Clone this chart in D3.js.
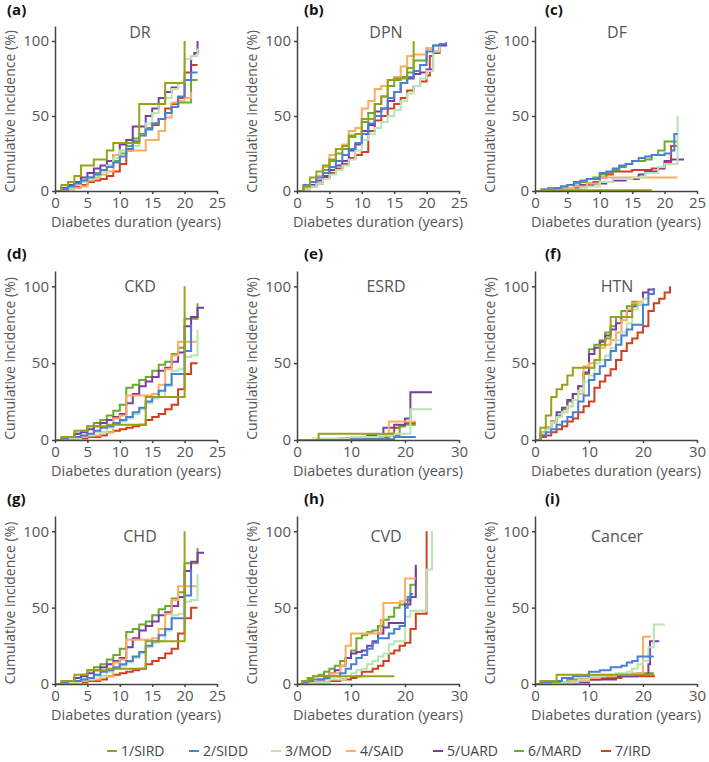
<!DOCTYPE html>
<html>
<head>
<meta charset="utf-8">
<script src="https://cdn.jsdelivr.net/npm/d3@7"></script>
<style>
  body { margin: 0; background: #fff; }
  svg { display: block; }
  text { font-family: "Open Sans", "DejaVu Sans", sans-serif; }
</style>
</head>
<body>
<svg id="chart" width="709" height="762"></svg>
<script>
// Groups and colours (legend order)
var groups = ["1/SIRD", "2/SIDD", "3/MOD", "4/SAID", "5/UARD", "6/MARD", "7/IRD"];
var groupColors = ["#97a11a", "#4a7fd6", "#b9e4b3", "#ffab60", "#7b3ca3", "#6aab2c", "#d0401e"];

var panelTitles = ["DR", "DPN", "DF", "CKD", "ESRD", "HTN", "CHD", "CVD", "Cancer"];
var panelLetters = ["(a)", "(b)", "(c)", "(d)", "(e)", "(f)", "(g)", "(h)", "(i)"];
var panelXMax = [25, 25, 25, 25, 30, 30, 25, 30, 30];
var xTicks25 = [0, 5, 10, 15, 20, 25];
var xTicks30 = [0, 10, 20, 30];
var yTicks = [0, 50, 100];

// Step curves, [years, cumulative %], one list per group
var drSteps = [
  [[0,0],[1,4],[2,6],[3,10],[4,17],[6,21],[8,27],[9,32],[13,58],[17,72],[20,100]],
  [[0,0],[1,1],[2,3],[3,5],[4,7],[5,9],[6,11],[7,14],[8,16],[9,19],[10,23],[11,28],[12,33],[13,37],[14,41],[15,45],[16,48],[17,52],[18,56],[19,63],[20,74],[21,79],[22,79]],
  [[0,0],[1,1],[2,2],[3,4],[4,6],[5,8],[6,10],[7,13],[8,17],[9,22],[10,27],[11,28],[12,30],[13,37],[14,45],[15,52],[16,58],[17,62],[18,68],[19,72],[20,88],[21,90],[22,95]],
  [[0,0],[2,1],[3,2],[4,3],[5,7],[6,9],[7,11],[8,13],[9,24],[10,27],[14,34],[16,40],[17,49],[18,59],[19,60],[20,62],[21,66]],
  [[0,0],[1,2],[2,4],[3,6],[4,9],[5,12],[6,15],[7,17],[8,20],[9,24],[10,31],[11,34],[12,43],[14,50],[15,55],[16,62],[17,66],[18,69],[19,72],[20,74],[21,90],[21.5,92],[22,100]],
  [[0,0],[1,2],[2,3],[3,5],[4,7],[5,9],[6,12],[7,14],[8,17],[9,20],[10,25],[11,30],[12,35],[13,38],[14,42],[15,45],[16,48],[17,52],[18,56],[19,59],[21,74],[22,74]],
  [[0,0],[1,1],[2,2],[3,3],[4,4],[5,6],[6,7],[7,8],[8,10],[9,13],[10,18],[11,27],[12,33],[13,38],[14,42],[15,44],[16,48],[17,55],[18,58],[19,62],[20,79],[21,84],[22,84]]
];

var dpnSteps = [
  [[0,0],[1,3],[2,9],[3,13],[4,17],[5,21],[6,28],[7,30],[8,37],[9,38],[10,48],[12,58],[13,63],[14,74],[15,75],[17,82],[18,100]],
  [[0,0],[1,4],[2,6],[3,9],[4,12],[5,16],[6,20],[7,24],[8,28],[9,32],[10,38],[11,45],[12,50],[13,55],[14,62],[15,66],[16,72],[17,76],[18,80],[19,84],[20,93],[21,97],[22,98],[23,99]],
  [[0,0],[1,1],[2,3],[3,5],[4,8],[5,11],[6,14],[7,17],[8,21],[9,27],[10,34],[11,38],[12,42],[13,46],[14,50],[15,54],[16,60],[17,65],[18,70],[19,75],[20,80],[21,93],[22,97]],
  [[0,0],[1,2],[2,6],[3,10],[4,16],[5,24],[6,28],[7,31],[8,40],[9,42],[10,55],[11,60],[12,68],[13,70],[14,74],[15,76],[16,83],[17,90],[18,91],[20,95],[21,96]],
  [[0,0],[1,2],[2,4],[3,7],[4,10],[5,14],[6,17],[7,20],[8,27],[9,31],[10,40],[11,44],[12,53],[13,55],[14,60],[15,66],[16,72],[17,75],[18,78],[19,79],[20,81],[21,93],[22,97],[23,99]],
  [[0,0],[1,2],[2,6],[3,10],[4,14],[5,20],[6,25],[7,28],[8,36],[9,38],[10,46],[11,52],[12,58],[13,63],[14,70],[15,74],[16,76],[17,79],[18,87],[20,95],[21,97],[22,97]],
  [[0,0],[1,1],[2,3],[3,5],[4,9],[5,12],[6,15],[7,18],[8,22],[9,24],[10,26],[11,40],[12,47],[13,50],[14,55],[15,58],[16,62],[17,67],[18,70],[19,73],[20,77],[20.5,90],[21,92],[22,95]]
];

var dfSteps = [
  [[0,0],[1,0.5],[18,0.5]],
  [[0,0],[1,1],[3,2],[4,3],[5,4],[6,6],[7,7],[8,8],[10,12],[11,13],[12,15],[13,17],[14,18],[15,20],[16,22],[17,23],[18,24],[20,25],[21,27],[21.5,38],[22,38]],
  [[0,0],[3,0.5],[5,1],[7,2],[8,3],[10,6],[12,8],[15,9],[17,12],[19,16],[20,18],[22,50]],
  [[0,0],[2,1],[4,2],[6,3],[8,5],[10,9],[22,9]],
  [[0,0],[3,1],[5,2],[7,4],[9,5],[11,6],[12,7],[14,8],[16,11],[17,13],[19,15],[20,20],[21,21],[23,21]],
  [[0,0],[1,1],[2,2],[4,3],[5,4],[6,5],[7,6],[8,8],[9,9],[10,11],[11,12],[12,14],[13,16],[14,18],[15,20],[17,21],[18,24],[19,27],[20,33],[22,33]],
  [[0,0],[2,1],[4,2],[6,3],[8,5],[9,6],[10,9],[11,11],[12,13],[15,14],[18,15],[19,16],[20,19],[21,30],[22,30]]
];

var ckdSteps = [
  [[0,0],[1,2],[3,6],[5,9],[8,10],[14,28],[20,100]],
  [[0,0],[1,1],[2,2],[4,3],[5,4],[6,6],[7,8],[8,9],[9,11],[10,13],[11,15],[12,18],[13,21],[14,25],[15,28],[16,32],[17,36],[18,43],[20,58],[21,75]],
  [[0,0],[2,1],[4,3],[6,5],[8,8],[9,10],[10,12],[11,14],[12,17],[13,20],[14,24],[15,27],[16,28],[17,35],[18,45],[19,46],[20,54],[21,55],[22,72]],
  [[0,0],[1,1],[3,2],[5,3],[7,5],[9,14],[10,16],[11,29],[15,30],[16,36],[17,46],[18,55],[19,64],[22,64]],
  [[0,0],[1,1],[2,2],[3,4],[4,5],[5,7],[6,9],[7,11],[8,13],[9,15],[10,17],[11,24],[12,30],[13,35],[14,38],[15,41],[16,45],[17,47],[18,51],[19,57],[20,74],[21,80],[22,86],[23,86]],
  [[0,0],[1,1],[2,2],[3,4],[4,6],[5,9],[6,11],[7,13],[8,16],[9,19],[10,23],[11,34],[12,36],[13,39],[14,41],[15,45],[16,49],[17,51],[18,56],[19,60],[20,79],[21,79],[22,89]],
  [[0,0],[3,1],[5,2],[7,3],[8,5],[9,6],[10,7],[11,8],[12,9],[13,10],[14,13],[15,15],[16,17],[17,20],[18,23],[19,33],[20,43],[21,50],[22,50]]
];

var esrdSteps = [
  [[0,0],[4,4],[18,4]],
  [[0,0],[10,0.5],[18,2],[22,2]],
  [[0,0],[3,1],[10,2],[15,3],[18,4],[21,20],[25,20]],
  [[0,0],[8,1],[12,2],[16,3],[17,12],[22,12]],
  [[0,0],[8,1],[10,2],[13,3],[16,8],[18,10],[20,14],[21,31],[25,31]],
  [[0,0],[10,1],[17,3],[19,9],[20,10],[22,10]],
  [[0,0],[9,1],[15,2],[17,4],[18,8],[19,9],[20,11],[22,11]]
];

var htnSteps = [
  [[0,0],[1,8],[2,16],[3,28],[4,33],[5,36],[6,42],[7,47],[10,47],[11,52],[12,62],[13,66],[14,80],[18,88],[19,88]],
  [[0,0],[1,3],[2,5],[3,7],[4,10],[5,12],[6,15],[7,18],[8,25],[9,29],[10,39],[11,43],[12,48],[13,52],[14,58],[15,62],[16,68],[17,72],[18,75],[20,88],[21,95],[22,99]],
  [[0,0],[1,4],[2,7],[3,11],[4,15],[5,18],[6,22],[7,26],[8,32],[9,38],[10,42],[11,50],[12,52],[13,55],[14,60],[15,65],[16,70],[17,76],[18,85],[19,88],[20,92],[21,95],[22,98]],
  [[0,0],[1,5],[2,8],[3,12],[4,15],[5,18],[6,22],[7,26],[8,30],[9,48],[10,50],[11,52],[12,60],[13,62],[14,65],[15,70],[16,78],[17,85],[18,89],[19,90],[20,90]],
  [[0,0],[1,4],[2,8],[3,12],[4,18],[5,21],[6,26],[7,30],[8,35],[9,44],[10,56],[11,60],[12,64],[13,68],[14,72],[15,76],[16,80],[17,84],[18,87],[19,88],[20,96],[21,98],[22,99]],
  [[0,0],[1,5],[2,8],[3,12],[4,16],[5,20],[6,25],[7,30],[8,35],[9,43],[10,59],[11,62],[12,65],[13,70],[14,74],[15,80],[16,84],[17,87],[18,90],[19,90]],
  [[0,0],[1,2],[2,3],[3,5],[4,7],[5,9],[6,12],[7,14],[8,18],[9,22],[10,25],[11,34],[12,38],[13,42],[14,46],[15,52],[16,58],[17,63],[18,66],[19,70],[20,74],[21,84],[22,89],[23,92],[24,96],[25,100]]
];

// CHD curves read the same as CKD in the figure
var chdSteps = [
  [[0,0],[1,2],[3,6],[5,9],[8,10],[14,28],[20,100]],
  [[0,0],[1,1],[2,2],[4,3],[5,4],[6,6],[7,8],[8,9],[9,11],[10,13],[11,15],[12,18],[13,21],[14,25],[15,28],[16,32],[17,36],[18,43],[20,58],[21,75]],
  [[0,0],[2,1],[4,3],[6,5],[8,8],[9,10],[10,12],[11,14],[12,17],[13,20],[14,24],[15,27],[16,28],[17,35],[18,45],[19,46],[20,54],[21,55],[22,72]],
  [[0,0],[1,1],[3,2],[5,3],[7,5],[9,14],[10,16],[11,29],[15,30],[16,36],[17,46],[18,55],[19,64],[22,64]],
  [[0,0],[1,1],[2,2],[3,4],[4,5],[5,7],[6,9],[7,11],[8,13],[9,15],[10,17],[11,24],[12,30],[13,35],[14,38],[15,41],[16,45],[17,47],[18,51],[19,57],[20,74],[21,80],[22,86],[23,86]],
  [[0,0],[1,1],[2,2],[3,4],[4,6],[5,9],[6,11],[7,13],[8,16],[9,19],[10,23],[11,34],[12,36],[13,39],[14,41],[15,45],[16,49],[17,51],[18,56],[19,60],[20,79],[21,79],[22,89]],
  [[0,0],[3,1],[5,2],[7,3],[8,5],[9,6],[10,7],[11,8],[12,9],[13,10],[14,13],[15,15],[16,17],[17,20],[18,23],[19,33],[20,43],[21,50],[22,50]]
];

var cvdSteps = [
  [[0,0],[1,2],[2,3],[3,5],[18,5]],
  [[0,0],[1,1],[2,2],[3,3],[5,4],[6,5],[8,7],[9,10],[10,13],[11,17],[12,19],[13,23],[14,27],[15,30],[17,33],[18,36],[19,38],[20,50],[20.5,57],[21,59],[21.5,59]],
  [[0,0],[3,1],[6,3],[9,5],[10,7],[11,9],[12,10],[13,13],[14,15],[15,18],[16,20],[17,26],[18,28],[20,44],[21,48],[24,75],[25,100]],
  [[0,0],[2,1],[4,3],[6,7],[8,12],[9,25],[10,33],[15,33],[15.5,42],[16,53],[19,54],[20,69],[22,69]],
  [[0,0],[2,1],[4,3],[5,5],[6,7],[7,9],[8,12],[9,17],[10,20],[11,21],[12,22],[13,25],[14,28],[15,33],[16,37],[17,40],[20,52],[21,57],[22,78]],
  [[0,0],[1,2],[2,4],[3,5],[4,6],[5,8],[6,10],[7,12],[8,15],[9,17],[10,22],[11,30],[12,32],[13,34],[14,35],[15,38],[16,42],[17,44],[18,50],[19,52],[20,55],[21,65],[22,76]],
  [[0,0],[3,1],[6,2],[8,3],[10,4],[11,5],[12,8],[14,10],[15,12],[16,15],[17,20],[18,22],[19,25],[20,27],[21,36],[22,46],[24,100]]
];

var cancerSteps = [
  [[0,0],[1,2],[4,6],[22,6]],
  [[0,0],[1,1],[3,2],[5,4],[7,5],[10,8],[12,9],[14,11],[16,12],[17,14],[18,15],[19,18],[22,18]],
  [[0,0],[5,1],[8,3],[10,5],[13,6],[15,7],[17,8],[18,10],[19,13],[20,15],[21,24],[22,39],[24,39]],
  [[0,0],[5,1],[7,2],[10,4],[12,5],[15,6],[18,7],[20,31],[21.5,31]],
  [[0,0],[6,1],[10,3],[15,5],[19,6],[21,13],[21.3,28],[23,28]],
  [[0,0],[3,1],[6,3],[10,5],[15,6],[19,7],[22,7]],
  [[0,0],[3,1],[8,3],[12,4],[16,5],[20,5],[22,6]]
];

var panelSteps = [drSteps, dpnSteps, dfSteps, ckdSteps, esrdSteps, htnSteps, chdSteps, cvdSteps, cancerSteps];

// Layout
var colX = [55, 297, 535];
var plotW = 162;
var rowTop = [26, 271, 516];
var rowBottom = [191, 440, 684];
var letterX = [7, 304, 545];
var letterY = [15, 259, 504];
var titleX = [140, 386, 617];
var titleY = [38, 292, 542];
var axisColor = "#444";
var textColor = "#555";

var svg = d3.select("#chart");

panelTitles.forEach(function (title, i) {
  var col = i % 3;
  var row = Math.floor(i / 3);
  var xMax = panelXMax[i];

  var x = d3.scaleLinear().domain([0, xMax]).range([colX[col], colX[col] + plotW]);
  var y = d3.scaleLinear().domain([0, 110]).range([rowBottom[row], rowTop[row]]);

  var g = svg.append("g").attr("class", "panel");

  // Step lines, last group first so 1/SIRD sits on top
  var line = d3.line()
    .x(function (d) { return x(d[0]); })
    .y(function (d) { return y(d[1]); })
    .curve(d3.curveStepAfter);

  var steps = panelSteps[i];
  for (var k = steps.length - 1; k >= 0; k--) {
    g.append("path")
      .datum(steps[k])
      .attr("d", line)
      .style("fill", "none")
      .style("stroke", groupColors[k])
      .style("stroke-width", "2px");
  }

  // Axes
  var xAxis = g.append("g")
    .attr("transform", "translate(0," + rowBottom[row] + ")")
    .call(d3.axisBottom(x)
      .tickValues(xMax === 25 ? xTicks25 : xTicks30)
      .tickSize(3)
      .tickSizeOuter(0)
      .tickPadding(3));

  var yAxis = g.append("g")
    .attr("transform", "translate(" + colX[col] + ",0)")
    .call(d3.axisLeft(y)
      .tickValues(yTicks)
      .tickSize(3)
      .tickSizeOuter(0)
      .tickPadding(3));

  [xAxis, yAxis].forEach(function (a) {
    a.select(".domain").style("stroke", axisColor).style("stroke-width", "1.5px");
    a.selectAll(".tick line").style("stroke", axisColor).style("stroke-width", "1.5px");
    a.selectAll(".tick text")
      .style("fill", textColor)
      .style("font-size", "15px")
      .style("font-family", "'Open Sans', sans-serif");
  });

  // Axis titles
  g.append("text")
    .attr("x", colX[col] + plotW / 2)
    .attr("y", rowBottom[row] + 36)
    .attr("text-anchor", "middle")
    .style("font-size", "14.5px")
    .style("fill", textColor)
    .text("Diabetes duration (years)");

  g.append("text")
    .attr("transform", "translate(" + (colX[col] - 40) + "," + ((rowTop[row] + rowBottom[row]) / 2 + 3) + ") rotate(-90)")
    .attr("text-anchor", "middle")
    .style("font-size", "14px")
    .style("fill", textColor)
    .text("Cumulative incidence (%)");

  // Panel letter and title
  g.append("text")
    .attr("x", letterX[col])
    .attr("y", letterY[row])
    .style("font-size", "15px")
    .style("font-weight", "bold")
    .style("fill", "#111")
    .text(panelLetters[i]);

  g.append("text")
    .attr("x", titleX[col])
    .attr("y", titleY[row])
    .attr("text-anchor", "middle")
    .style("font-size", "16px")
    .style("fill", textColor)
    .text(title);
});

// Legend
var legendX = [121, 203, 285, 360, 447, 528, 615];
var legend = svg.append("g").attr("class", "legend");
groups.forEach(function (name, k) {
  legend.append("line")
    .attr("x1", legendX[k] - 14)
    .attr("x2", legendX[k] - 4)
    .attr("y1", 751)
    .attr("y2", 751)
    .style("stroke", groupColors[k])
    .style("stroke-width", "2px");
  legend.append("text")
    .attr("x", legendX[k])
    .attr("y", 756)
    .style("font-size", "14px")
    .style("fill", "#444")
    .text(name);
});
</script>
</body>
</html>
